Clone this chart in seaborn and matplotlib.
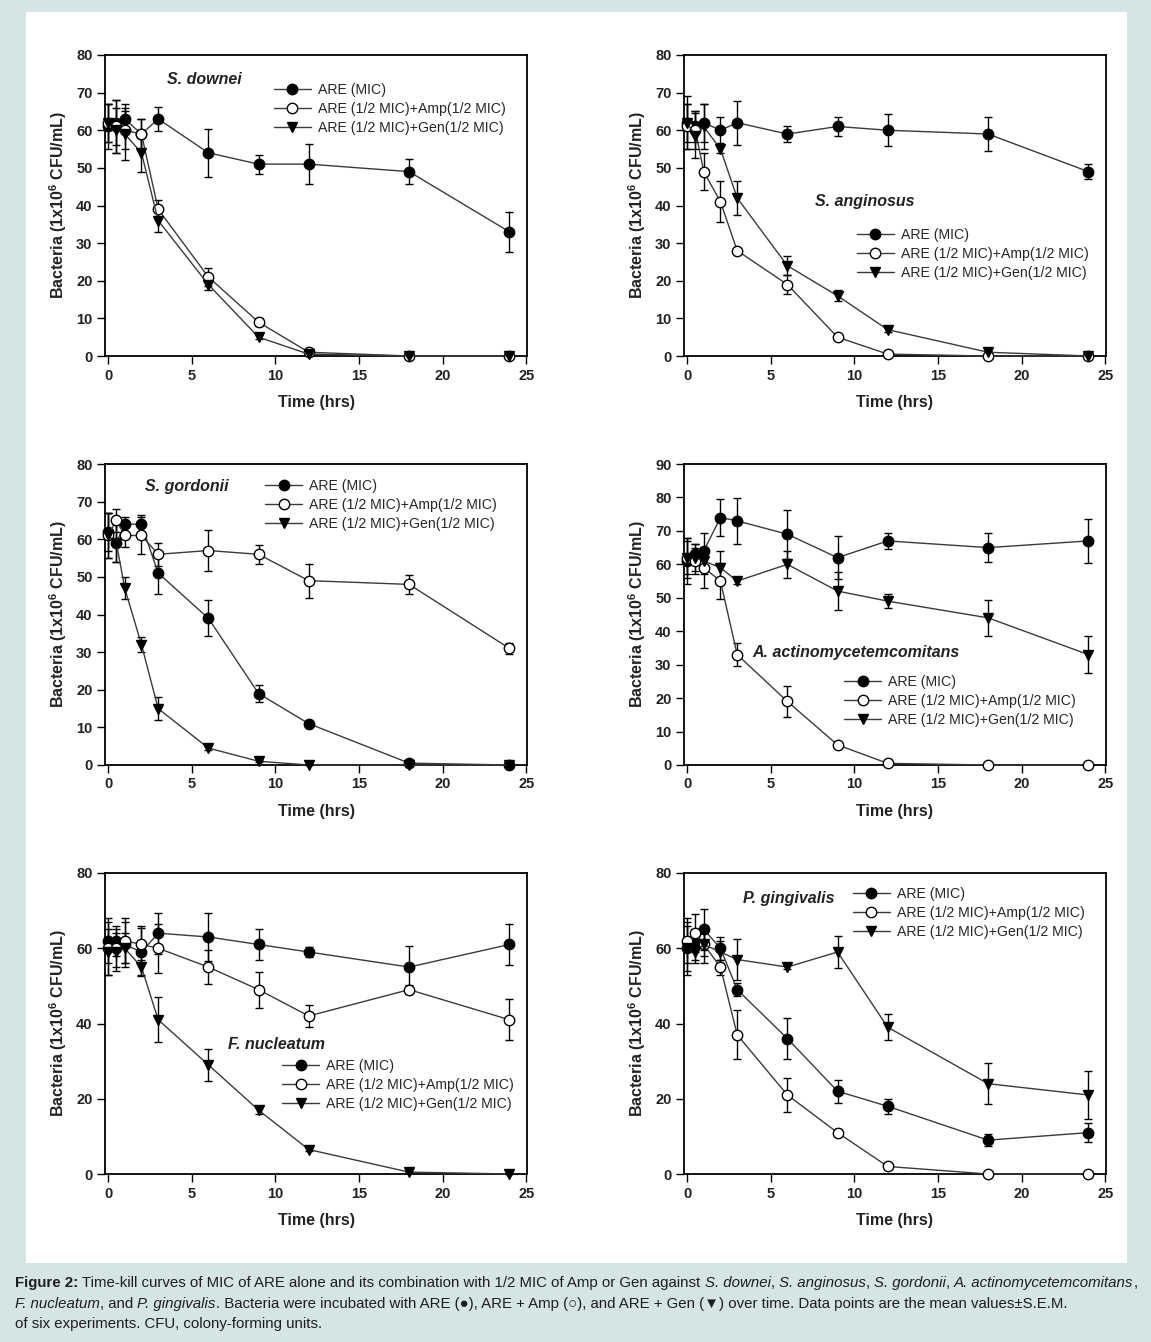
import matplotlib
matplotlib.use("Agg")
import matplotlib.pyplot as plt
from matplotlib.patches import Rectangle
import seaborn as sns

# sampling times (hrs)
t = [0, 0.5, 1, 2, 3, 6, 9, 12, 18, 24]

# S. downei
downei_are = [61, 62, 63, 59, 63, 54, 51, 51, 49, 33]
downei_are_err = [6, 6, 4, 4, 3.3, 6.3, 2.5, 5.3, 3.4, 5.4]
downei_amp = [62, 61, 60, 59, 39, 21, 9, 1, 0, 0]
downei_amp_err = [5, 7, 5, 4, 2.5, 2.5, 1, 0.5, 0, 0]
downei_gen = [62, 60, 59, 54, 36, 19, 5, 0.5, 0, 0]
downei_gen_err = [5, 6, 7, 5, 3, 1.5, 0.5, 0, 0, 0]

# S. anginosus
anginosus_are = [62, 61, 62, 60, 62, 59, 61, 60, 59, 49]
anginosus_are_err = [7, 4, 5, 3.5, 5.8, 2, 2.5, 4.3, 4.5, 2]
anginosus_amp = [61, 60, 49, 41, 28, 19, 5, 0.5, 0, 0]
anginosus_amp_err = [6, 5, 5, 5.5, 0.7, 2.5, 0.5, 0, 0, 0]
anginosus_gen = [62, 58.5, 61, 55, 42, 24, 16, 7, 1, 0]
anginosus_gen_err = [5, 6, 6, 1, 4.5, 2.5, 1.5, 0.5, 0.3, 0]

# S. gordonii
gordonii_are = [62, 59, 64, 64, 51, 39, 19, 11, 0.5, 0]
gordonii_are_err = [5, 5, 2, 2.5, 5.5, 4.8, 2.3, 0.6, 0, 0]
gordonii_amp = [61, 65, 61, 61, 56, 57, 56, 49, 48, 31]
gordonii_amp_err = [6, 3, 3, 5, 3, 5.5, 2.5, 4.5, 2.5, 1.5]
gordonii_gen = [61, 59, 47, 32, 15, 4.5, 1, 0, 0, 0]
gordonii_gen_err = [6, 5, 3, 2, 3, 0.5, 0.3, 0, 0, 0]

# A. actinomycetemcomitans
aa_are = [61, 63, 64, 74, 73, 69, 62, 67, 65, 67]
aa_are_err = [7, 3, 5.5, 5.5, 6.8, 7.3, 6.5, 2.5, 4.3, 6.7]
aa_amp = [62, 61, 59, 55, 33, 19, 6, 0.5, 0, 0]
aa_amp_err = [5, 4, 6, 5.5, 3.5, 4.5, 0.5, 0, 0, 0]
aa_gen = [62, 62, 61, 59, 55, 60, 52, 49, 44, 33]
aa_gen_err = [6, 4, 4, 5, 1, 4, 5.7, 2, 5.3, 5.5]

# F. nucleatum
fn_are = [62, 62, 61, 59, 64, 63, 61, 59, 55, 61]
fn_are_err = [6, 4, 6, 6.5, 5.5, 6.5, 4, 1.2, 5.5, 5.5]
fn_amp = [60, 60, 62, 61, 60, 55, 49, 42, 49, 41]
fn_amp_err = [7, 5, 6, 5, 6.5, 4.5, 4.8, 3, 1.2, 5.5]
fn_gen = [59, 59, 60, 55, 41, 29, 17, 6.5, 0.5, 0]
fn_gen_err = [6, 5, 4, 2, 6, 4.2, 1, 0.5, 0, 0]

# P. gingivalis
pg_are = [60, 61, 65, 60, 49, 36, 22, 18, 9, 11]
pg_are_err = [7, 4, 5.5, 3, 1.7, 5.5, 3, 2, 1.5, 2.5]
pg_amp = [62, 64, 61, 55, 37, 21, 11, 2, 0, 0]
pg_amp_err = [6, 5, 5, 2, 6.5, 4.5, 1, 0.5, 0, 0]
pg_gen = [60, 59, 61, 59, 57, 55, 59, 39, 24, 21]
pg_gen_err = [6, 3, 3, 3, 5.5, 0.5, 4.3, 3.5, 5.5, 6.5]

labels = ["ARE (MIC)", "ARE (1/2 MIC)+Amp(1/2 MIC)", "ARE (1/2 MIC)+Gen(1/2 MIC)"]

sns.set_theme(style="ticks")
plt.rcParams["font.family"] = ["Liberation Sans", "DejaVu Sans"]
plt.rcParams["mathtext.fontset"] = "custom"
plt.rcParams["mathtext.rm"] = "Liberation Sans"
plt.rcParams["mathtext.bf"] = "Liberation Sans:bold"
plt.rcParams["mathtext.it"] = "Liberation Sans:italic"

W, H = 1151, 1342
fig = plt.figure(figsize=(W / 100, H / 100), dpi=100)
fig.patch.set_facecolor("#d5e4e4")
fig.add_artist(Rectangle((26 / W, 1 - 1263 / H), (1127 - 26) / W, (1263 - 12) / H,
                         transform=fig.transFigure, facecolor="white", edgecolor="none", zorder=0))

# panel: (name, ARE, err, Amp, err, Gen, err, ymax, ytick step, px left, px top,
#         name pos, legend pos)
panels = [
    ("S. downei", downei_are, downei_are_err, downei_amp, downei_amp_err, downei_gen, downei_gen_err,
     80, 10, 105, 55, (0.147, 0.92), (0.40, 0.907)),
    ("S. anginosus", anginosus_are, anginosus_are_err, anginosus_amp, anginosus_amp_err, anginosus_gen, anginosus_gen_err,
     80, 10, 684, 55, (0.311, 0.512), (0.41, 0.425)),
    ("S. gordonii", gordonii_are, gordonii_are_err, gordonii_amp, gordonii_amp_err, gordonii_gen, gordonii_gen_err,
     80, 10, 105, 464, (0.095, 0.924), (0.38, 0.95)),
    ("A. actinomycetemcomitans", aa_are, aa_are_err, aa_amp, aa_amp_err, aa_gen, aa_gen_err,
     90, 10, 684, 464, (0.161, 0.375), (0.38, 0.299)),
    ("F. nucleatum", fn_are, fn_are_err, fn_amp, fn_amp_err, fn_gen, fn_gen_err,
     80, 20, 105, 873, (0.291, 0.429), (0.42, 0.382)),
    ("P. gingivalis", pg_are, pg_are_err, pg_amp, pg_amp_err, pg_gen, pg_gen_err,
     80, 20, 684, 873, (0.140, 0.914), (0.40, 0.953)),
]

line_col = "#3a3a3a"
for (name, are, are_e, amp, amp_e, gen, gen_e, ymax, ystep, px_l, px_t, npos, lpos) in panels:
    ax = fig.add_axes([px_l / W, 1 - (px_t + 301) / H, 422 / W, 301 / H])
    series = [(are, are_e, "o", "black"), (amp, amp_e, "o", "white"), (gen, gen_e, "v", "black")]
    for (vals, errs, mk, fc), lab in zip(series, labels):
        ax.errorbar(t, vals, yerr=errs, fmt="none", ecolor="black", elinewidth=1,
                    capsize=3.2, capthick=1, zorder=2, clip_on=False)
        sns.lineplot(x=t, y=vals, ax=ax, color=line_col, linewidth=1, marker=mk,
                     markersize=7.5 if mk == "o" else 7.2, markerfacecolor=fc,
                     markeredgecolor="black", markeredgewidth=1, label=lab,
                     zorder=3, clip_on=False)
    ax.set_xlim(-0.18, 25.05)
    ax.set_ylim(0, ymax)
    ax.set_xticks(range(0, 26, 5))
    ax.set_yticks(range(0, ymax + 1, ystep))
    for s in ax.spines.values():
        s.set_linewidth(1.3)
        s.set_color("black")
        s.set_visible(True)
    ax.tick_params(direction="out", length=6, width=1, labelsize=10.5, pad=3, color="black")
    for lbl in ax.get_xticklabels() + ax.get_yticklabels():
        lbl.set_fontweight("bold")
        lbl.set_color("#222222")
    ax.set_xlabel("Time (hrs)", fontsize=11.5, fontweight="bold", labelpad=9, color="#222222")
    ax.set_ylabel(r"Bacteria (1x10$^{\mathbf{6}}$ CFU/mL)", fontsize=11.5, fontweight="bold",
                  labelpad=5, color="#222222")
    ax.text(npos[0], npos[1], name, transform=ax.transAxes, fontsize=11.5,
            fontweight="bold", fontstyle="italic", va="center", ha="left", color="#222222")
    ax.legend(loc="upper left", bbox_to_anchor=lpos, frameon=False, fontsize=10.2,
              borderpad=0, handlelength=2.6, handletextpad=0.5, labelspacing=0.35,
              borderaxespad=0)

# caption, drawn piece by piece so bold / italic runs sit inline
renderer = fig.canvas.get_renderer()
cap_lines = [
    [("Figure 2:", "bold"),
     (" Time-kill curves of MIC of ARE alone and its combination with 1/2 MIC of Amp or Gen against ", "normal"),
     ("S. downei", "italic"), (", ", "normal"), ("S. anginosus", "italic"), (", ", "normal"),
     ("S. gordonii", "italic"), (", ", "normal"), ("A. actinomycetemcomitans", "italic"), (",", "normal")],
    [("F. nucleatum", "italic"), (", and ", "normal"), ("P. gingivalis", "italic"),
     (". Bacteria were incubated with ARE (\u25cf), ARE + Amp (\u25cb), and ARE + Gen (\u25bc) over time. "
      "Data points are the mean values\u00b1S.E.M.", "normal")],
    [("of six experiments. CFU, colony-forming units.", "normal")],
]
baselines = [1287, 1308, 1328]


def text_width(s, style, fs):
    # measure with guard chars so edge spaces count
    kw = dict(fontsize=fs, fontweight="bold" if style == "bold" else "normal",
              fontstyle="italic" if style == "italic" else "normal")
    a = fig.text(0, 0, "x" + s + "x", **kw)
    b = fig.text(0, 0, "xx", **kw)
    w = a.get_window_extent(renderer).width - b.get_window_extent(renderer).width
    a.remove()
    b.remove()
    return w


base_fs = 10
w1 = sum(text_width(s, st, base_fs) for s, st in cap_lines[0])
cap_fs = base_fs * 1123 / w1

for segs, yb in zip(cap_lines, baselines):
    x = 15
    for s, st in segs:
        fig.text(x / W, 1 - yb / H, s, fontsize=cap_fs, va="baseline", ha="left", color="#1e1e1e",
                 fontweight="bold" if st == "bold" else "normal",
                 fontstyle="italic" if st == "italic" else "normal")
        x += text_width(s, st, cap_fs)

fig.savefig("out.png", dpi=100, facecolor=fig.get_facecolor())
